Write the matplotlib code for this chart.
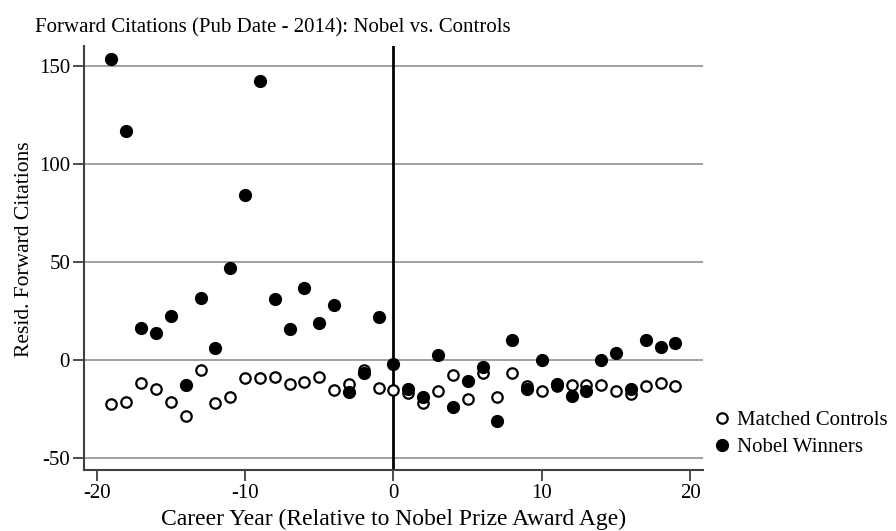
import numpy as np
import matplotlib.pyplot as plt

plt.rcParams['font.family'] = ['Liberation Serif', 'DejaVu Serif']
plt.rcParams['axes.unicode_minus'] = False

years = list(range(-19, 20))

nobel = [153.4, 117.0, 16.2, 13.8, 22.4, -12.9, 31.5, 6.0, 47.1, 84.2,
         142.3, 31.1, 15.8, 36.6, 19.2, 27.9, -16.2, -6.5, 22.1, -2.2,
         -14.8, -18.7, 2.6, -23.8, -10.5, -3.7, -31.0, 10.2, -14.8, 0.3,
         -11.9, -18.2, -15.8, 0.2, 3.7, -14.8, 10.2, 6.5, 9.0]

controls = [-22.1, -21.1, -11.6, -14.6, -21.4, -28.6, -4.8, -21.9, -18.9, -9.0,
            -9.2, -8.5, -12.2, -11.1, -8.5, -15.0, -11.9, -5.0, -14.1, -15.3,
            -16.7, -21.8, -15.8, -7.7, -19.7, -6.8, -18.7, -6.3, -13.1, -15.6,
            -13.1, -12.9, -12.8, -12.8, -15.5, -17.0, -13.1, -11.4, -13.3]

xticks = [-20, -10, 0, 10, 20]
yticks = [-50, 0, 50, 100, 150]

fig = plt.figure(figsize=(8.96, 5.31), dpi=100, facecolor="white")
ax = fig.add_axes([0.09375, 0.1149, 0.6908, 0.7985])

for y in yticks:
    ax.axhline(y, color="#a0a0a0", lw=1.4, zorder=1)
ax.axvline(0, color="black", lw=2, zorder=2)

ax.plot(years, controls, ls="none", marker="o", ms=7.5, mfc="white",
        mec="black", mew=1.6, label="Matched Controls", zorder=3)
ax.plot(years, nobel, ls="none", marker="o", ms=8.5, mfc="black",
        mec="black", label="Nobel Winners", zorder=4)

ax.set_xlim(-20.85, 20.85)
ax.set_ylim(-56, 160.2)
ax.set_xticks(xticks)
ax.set_yticks(yticks)
ax.tick_params(length=8, width=1.3, color="#404040", labelsize=15, pad=2)
ax.spines[["top", "right"]].set_visible(False)
for s in ["left", "bottom"]:
    ax.spines[s].set_color("#404040")
    ax.spines[s].set_linewidth(1.5)

ax.set_xlabel("Career Year (Relative to Nobel Prize Award Age)", fontsize=17,
              labelpad=4)
ax.set_ylabel("Resid. Forward Citations", fontsize=15.5)
ax.yaxis.set_label_coords(-0.081, 0.52)
fig.text(0.039, 0.947, "Forward Citations (Pub Date - 2014): Nobel vs. Controls",
         fontsize=15, ha="left", va="center")

ax.legend(loc="center left", bbox_to_anchor=(1.0, 0.085), frameon=False,
          fontsize=15, handletextpad=0.25, labelspacing=0.35, handlelength=1.0,
          borderaxespad=0)

fig.savefig("out.png", dpi=100, facecolor="white")
